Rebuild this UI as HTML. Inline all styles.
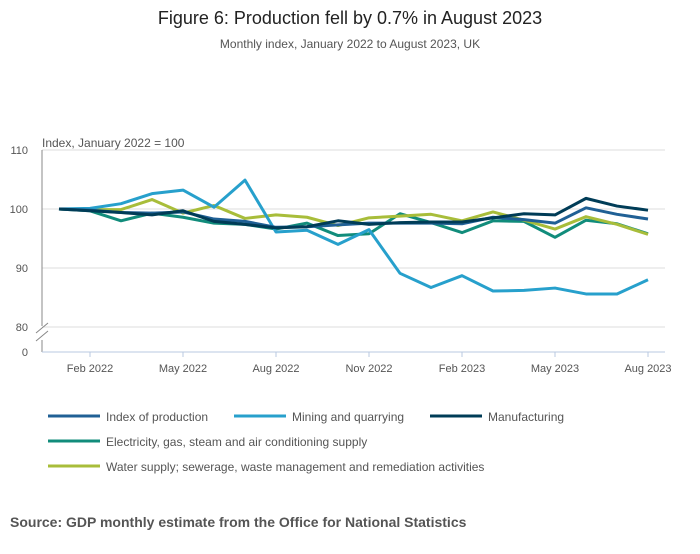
<!DOCTYPE html>
<html><head><meta charset="utf-8"><style>
body{margin:0;background:#fff;font-family:"Liberation Sans",sans-serif;}
.wrap{position:relative;width:700px;height:549px;}
</style></head><body>
<div class="wrap">
<svg id="c" width="700" height="549">
<text x="350" y="24" text-anchor="middle" font-size="18" fill="#222">Figure 6: Production fell by 0.7% in August 2023</text>
<text x="350" y="48" text-anchor="middle" font-size="12" fill="#555">Monthly index, January 2022 to August 2023, UK</text>
<text x="42" y="147" font-size="12" fill="#555">Index, January 2022 = 100</text>
<text x="10" y="527" font-size="14" font-weight="bold" fill="#555">Source: GDP monthly estimate from the Office for National Statistics</text>
</svg>
</div>
<script>
const months=["Feb 2022","May 2022","Aug 2022","Nov 2022","Feb 2023","May 2023","Aug 2023"];
const tickIdx=[1,4,7,10,13,16,19];
const yTicks=[80,90,100,110];
const seriesNames=["Index of production","Mining and quarrying","Manufacturing","Electricity, gas, steam and air conditioning supply","Water supply; sewerage, waste management and remediation activities"];
const iop=[100,99.8,99.4,99.3,99.5,98.3,97.9,96.9,97.0,97.3,97.6,97.6,97.6,97.5,98.6,98.2,97.6,100.2,99.1,98.3];
const mining=[100,100.1,100.9,102.6,103.2,100.3,104.9,96.1,96.4,94.0,96.5,89.1,86.7,88.7,86.1,86.2,86.6,85.6,85.6,88.0];
const manuf=[100,99.7,99.4,99.0,99.7,97.9,97.4,96.8,97.0,98.0,97.4,97.7,97.8,97.8,98.5,99.2,99.0,101.8,100.5,99.8];
const elec=[100,99.7,98.0,99.3,98.6,97.6,97.4,96.6,97.6,95.5,95.8,99.2,97.7,96.0,98.0,97.9,95.2,98.1,97.5,95.8];
const water=[100,99.9,99.9,101.6,99.3,100.6,98.4,99.0,98.6,97.2,98.5,98.8,99.1,98.0,99.5,98.1,96.6,98.7,97.4,95.7];
const colors=["#206095","#27a0cc","#003c57","#118c7b","#a8bd3a"];
const NS="http://www.w3.org/2000/svg",svg=document.getElementById('c');
const x=i=>59+i*31, y=v=>209-(v-100)*5.9;
function mk(t,a){const e=document.createElementNS(NS,t);for(const k in a)e.setAttribute(k,a[k]);svg.appendChild(e);return e;}
yTicks.forEach(v=>{
 const g=mk('line',{x1:42,x2:665,y1:y(v),y2:y(v),stroke:'#ddd'});
 
 
 const t=mk('text',{x:28,y:y(v)+4,'text-anchor':'end','font-size':11,fill:'#555'});t.textContent=v;
 
 
});
const z=mk('text',{x:28,y:356,'text-anchor':'end','font-size':11,fill:'#555'});z.textContent='0';


const ya=mk('path',{d:'M42,150V326M42,340V352',stroke:'#888',fill:'none'});


const br=mk('path',{d:'M36,333L48,323M36,341L48,331',stroke:'#888',fill:'none'});


const xa=mk('line',{x1:42,x2:665,y1:352,y2:352,stroke:'#b8c8e0'});


tickIdx.forEach((i,k)=>{
 const l=mk('line',{x1:x(i),x2:x(i),y1:352,y2:357,stroke:'#b8c8e0'});
 
 
 const t=mk('text',{x:x(i),y:372,'text-anchor':'middle','font-size':11,fill:'#555'});t.textContent=months[k];
 
 
});
const data=[iop,mining,manuf,elec,water];
const order=[3,4,1,0,2];
order.forEach(s=>{
 const p=mk('polyline',{points:data[s].map((v,i)=>x(i)+','+y(v)).join(' '),fill:'none',stroke:colors[s],'stroke-width':3,'stroke-linejoin':'round'});
 
 
});
const leg=[[48,421],[234,421],[430,421],[48,446],[48,471]];
leg.forEach((p,s)=>{
 const l=mk('line',{x1:p[0],x2:p[0]+52,y1:p[1]-5,y2:p[1]-5,stroke:colors[s],'stroke-width':3});
 
 
 const t=mk('text',{x:p[0]+58,y:p[1],'font-size':12,fill:'#555'});t.textContent=seriesNames[s];
 
 
});
</script>
</body></html>
